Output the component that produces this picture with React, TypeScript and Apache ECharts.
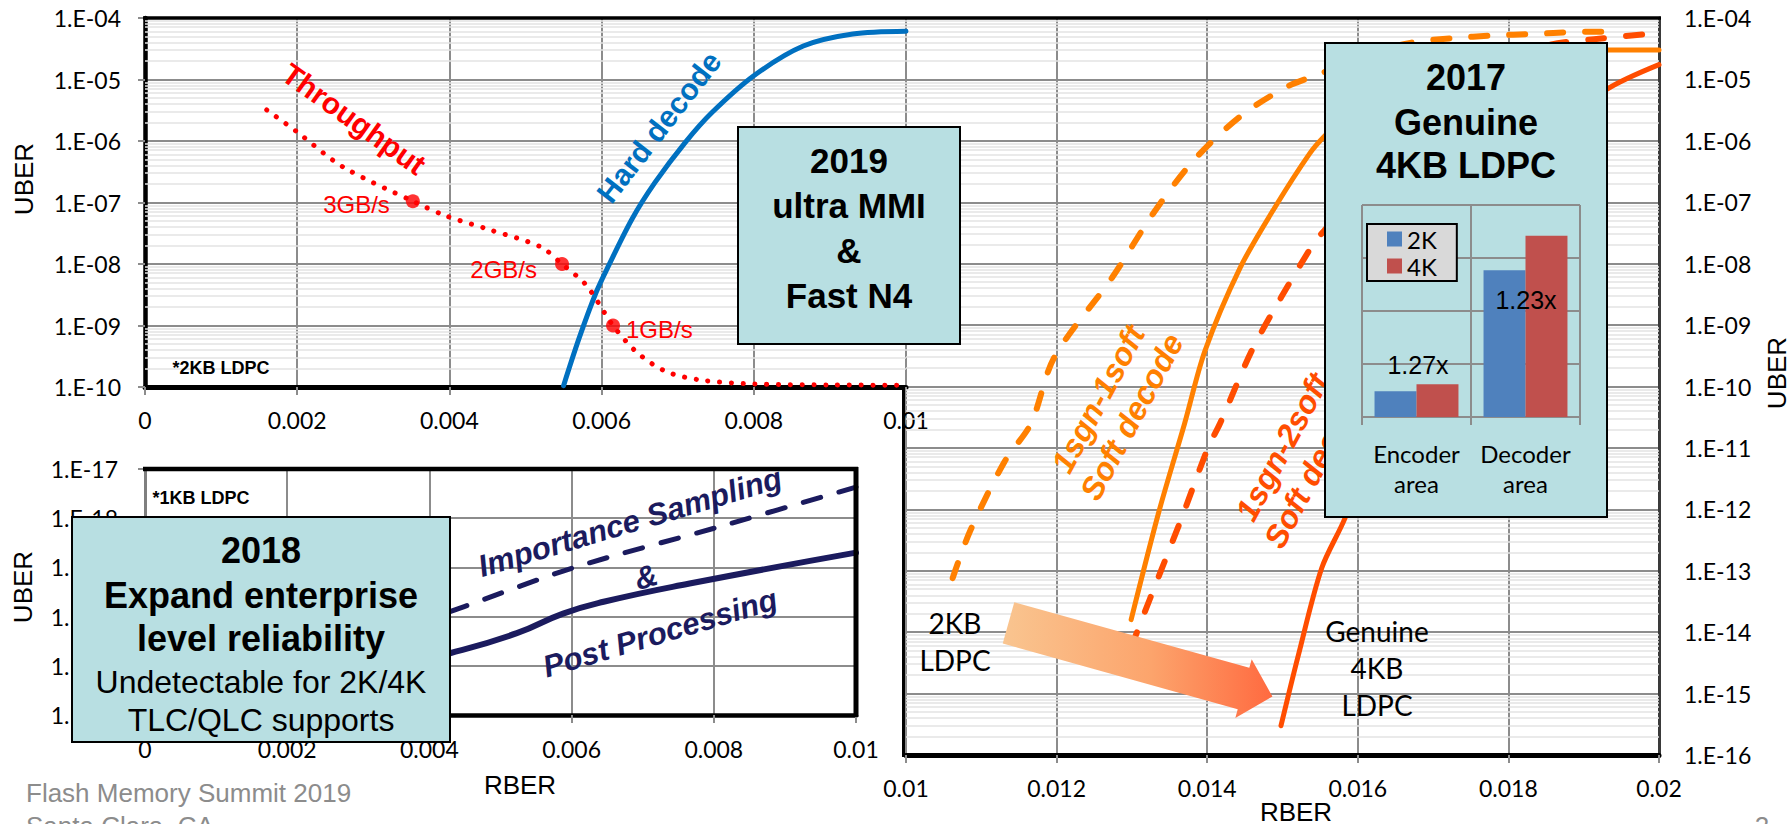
import React, { useEffect, useRef } from 'react';
import * as echarts from 'echarts';

const ARIAL = '"Liberation Sans", Arial, Helvetica, sans-serif';
const CAL = 'Lato, "Liberation Sans", sans-serif';

// ---------------- data ----------------
// Top-left chart (*2KB LDPC): RBER 0..0.01, UBER 1e-10..1e-4
const hardDecodeRber = [0.0055, 0.0057, 0.00593, 0.00609, 0.0064, 0.0067, 0.0071, 0.00745, 0.008, 0.00865, 0.0093, 0.01];
const hardDecodeUber = [1.05e-10, 6.0e-10, 3.5e-9, 9.3e-9, 5.4e-8, 2.1e-7, 9.5e-7, 2.9e-6, 1.15e-5, 3.5e-5, 5.5e-5, 6.1e-5];

const throughputRber = [0.0016, 0.002, 0.0026, 0.00352, 0.00395, 0.0045, 0.0052, 0.00548, 0.0058, 0.00615, 0.00646, 0.00684, 0.0073, 0.008, 0.009, 0.01];
const throughputUber = [3.2e-6, 1.4e-6, 3.8e-7, 1.05e-7, 6.1e-8, 3.7e-8, 1.9e-8, 1.0e-8, 4.5e-9, 1.0e-9, 3.7e-10, 1.8e-10, 1.3e-10, 1.12e-10, 1.08e-10, 1.07e-10];

const throughputPointRber = [0.00352, 0.00548, 0.00615];
const throughputPointUber = [1.05e-7, 1.0e-8, 1.0e-9];
const throughputPointLabels = ['3GB/s', '2GB/s', '1GB/s'];

// Right chart: RBER 0.01..0.02, UBER 1e-16..1e-4
const soft1Dash2kRber = [0.01062, 0.01085, 0.01131, 0.01166, 0.01197, 0.01274, 0.01328, 0.01382, 0.01444, 0.01506, 0.01552, 0.0161, 0.01673, 0.01726, 0.0178, 0.01833, 0.01886, 0.0193];
const soft1Dash2kUber = [7.6e-14, 4.4e-13, 6.0e-12, 2.5e-11, 3.0e-10, 6.0e-9, 6.5e-8, 4.8e-7, 2.5e-6, 7.6e-6, 1.26e-5, 2.6e-5, 4.0e-5, 4.7e-5, 5.2e-5, 5.5e-5, 5.9e-5, 6.0e-5];

const soft1Solid4kRber = [0.01299, 0.01336, 0.0137, 0.01397, 0.01444, 0.0149, 0.01536, 0.01556, 0.0162, 0.017, 0.018, 0.0186, 0.02];
const soft1Solid4kUber = [1.6e-14, 9.3e-13, 2.5e-11, 3.8e-10, 8.7e-9, 8.3e-8, 6.2e-7, 1.2e-6, 7.0e-6, 1.9e-5, 2.8e-5, 3.0e-5, 3.0e-5];

const soft2Dash2kRber = [0.01299, 0.01324, 0.01366, 0.01401, 0.01417, 0.01459, 0.01498, 0.01544, 0.01556, 0.0165, 0.0175, 0.0185, 0.0192, 0.02];
const soft2Dash2kUber = [5.7e-15, 3.5e-14, 7.2e-13, 1.0e-11, 2.5e-11, 3.8e-10, 2.8e-9, 2.4e-8, 3.5e-8, 1.0e-6, 1.0e-5, 3.5e-5, 4.6e-5, 5.7e-5];

const soft2Solid4kRber = [0.01498, 0.01521, 0.01552, 0.01583, 0.0165, 0.0172, 0.018, 0.0187, 0.0193, 0.02];
const soft2Solid4kUber = [3.0e-16, 4.2e-15, 1.1e-13, 7.2e-13, 1.0e-10, 6.3e-9, 1.6e-7, 1.6e-6, 6.8e-6, 1.74e-5];

// Bottom-left chart (*1KB LDPC): RBER 0..0.01, UBER 1e-22..1e-17
const importanceRber = [0.0038, 0.00449, 0.00604, 0.00806, 0.01];
const importanceUber = [7.0e-21, 1.6e-20, 1.0e-19, 6.6e-19, 4.3e-18];
const postProcRber = [0.0035, 0.00429, 0.00523, 0.00588, 0.00645, 0.00766, 0.01];
const postProcUber = [1.0e-21, 1.8e-21, 4.6e-21, 1.15e-20, 2.0e-20, 4.7e-20, 2.0e-19];

// Inset bar chart (2017 Genuine 4KB LDPC)
const barCategories = ['Encoder\narea', 'Decoder\narea'];
const area2K = [0.485, 2.77];
const area4K = [0.617, 3.42];
const ratioLabels = ['1.27x', '1.23x'];

// Tick labels
const uberTicksTop = ['1.E-10', '1.E-09', '1.E-08', '1.E-07', '1.E-06', '1.E-05', '1.E-04'];
const uberTicksRight = ['1.E-16', '1.E-15', '1.E-14', '1.E-13', '1.E-12', '1.E-11', '1.E-10', '1.E-09', '1.E-08', '1.E-07', '1.E-06', '1.E-05', '1.E-04'];
const uberTicksBottom = ['1.E-22', '1.E-21', '1.E-20', '1.E-19', '1.E-18', '1.E-17'];
const rberTicksLeft = ['0', '0.002', '0.004', '0.006', '0.008', '0.01'];
const rberTicksRight = ['0.01', '0.012', '0.014', '0.016', '0.018', '0.02'];

// ---------------- layout / style ----------------
const GA = { left: 145, top: 18, width: 761, height: 369 };
const GB = { left: 906, top: 18, width: 753, height: 737 };
const GC = { left: 145, top: 469, width: 711, height: 246 };
const GD = { left: 1362, top: 205, width: 218, height: 212 };

const GRID_COLOR = '#8c8c8c';
const MINOR_COLOR = '#e3e3e3';
const BOX_FILL = '#B8DFE2';
const ORANGE = '#FF8000';
const RED_ORANGE = '#FF4D00';
const NAVY = '#1B1B5E';

const lg = (v: number) => Math.log10(v);
const pts = (xs: number[], ys: number[]) => xs.map((x, i) => [x, lg(ys[i])]);

function minorLines(lo: number, hi: number) {
  const out: any[] = [];
  for (let e = lo; e < hi; e++) {
    for (let k = 2; k <= 9; k++) out.push({ yAxis: e + Math.log10(k) });
  }
  return out;
}

const yFmt = (labels: string[], lo: number) => (v: number) => labels[Math.round(v - lo)] ?? '';
const xFmt = (labels: string[], lo: number) => (v: number) => labels[Math.round((v - lo) / 0.002)] ?? '';

function xValueAxis(grid: number, min: number, max: number, labels: string[], margin: number, lw: number) {
  return {
    type: 'value', gridIndex: grid, min, max, interval: 0.002,
    axisLine: { show: true, onZero: false, lineStyle: { color: '#000', width: lw } },
    axisTick: { show: true, length: 8, lineStyle: { color: GRID_COLOR, width: 2 } },
    axisLabel: { margin, fontFamily: CAL, fontSize: 23, color: '#000', formatter: xFmt(labels, min), showMinLabel: true, showMaxLabel: true },
    splitLine: { show: true, lineStyle: { color: GRID_COLOR, width: 2 } },
  };
}

function yExpAxis(grid: number, min: number, max: number, labels: string[], position: string, margin: number, lineColor: string, lw: number, ticks: boolean) {
  return {
    type: 'value', gridIndex: grid, min, max, interval: 1, position,
    axisLine: { show: true, onZero: false, lineStyle: { color: lineColor, width: lw } },
    axisTick: { show: ticks, length: 7, lineStyle: { color: GRID_COLOR, width: 2 } },
    axisLabel: { margin, fontFamily: CAL, fontSize: 23, color: '#000', formatter: yFmt(labels, min), showMinLabel: true, showMaxLabel: true },
    splitLine: { show: true, lineStyle: { color: GRID_COLOR, width: 2 } },
  };
}

function lineSeries(name: string, idx: number, data: number[][], color: string, width: number, type: any, smooth: number, z = 3) {
  return {
    name, type: 'line', xAxisIndex: idx, yAxisIndex: idx, data,
    showSymbol: false, symbol: 'none', smooth, silent: true, z,
    lineStyle: { color, width, type, cap: 'round', join: 'round' },
  };
}

function minorSeries(idx: number, x0: number, lo: number, hi: number) {
  return {
    type: 'line', xAxisIndex: idx, yAxisIndex: idx, data: [[x0, lo]], symbol: 'none', showSymbol: false,
    lineStyle: { opacity: 0 }, silent: true, z: 1,
    markLine: {
      z: 1, silent: true, symbol: ['none', 'none'], label: { show: false },
      lineStyle: { color: MINOR_COLOR, width: 1.5, type: 'solid' },
      data: minorLines(lo, hi),
    },
  };
}

function text(t: string, x: number, y: number, o: any = {}) {
  return {
    type: 'text', x, y, rotation: o.rotation || 0, z: o.z ?? 60, silent: true,
    style: {
      text: t, fill: o.color || '#000',
      fontSize: o.size || 24, fontFamily: o.family || ARIAL,
      fontWeight: o.weight || 'normal', fontStyle: o.italic ? 'italic' : 'normal',
      align: o.align || 'center', textAlign: o.align || 'center',
      verticalAlign: 'middle', textVerticalAlign: 'middle',
      lineHeight: o.lineHeight,
    },
  };
}

function hline(x1: number, y1: number, x2: number, y2: number, w: number, color = '#000', z = 50) {
  return { type: 'line', z, silent: true, shape: { x1, y1, x2, y2 }, style: { stroke: color, lineWidth: w } };
}

function box(x: number, y: number, w: number, h: number) {
  return { type: 'rect', z: 100, silent: true, shape: { x, y, width: w, height: h }, style: { fill: BOX_FILL, stroke: '#000', lineWidth: 2 } };
}

function arrowPoints() {
  const th = (15.6 * Math.PI) / 180;
  const u = [Math.cos(th), Math.sin(th)];
  const n = [-Math.sin(th), Math.cos(th)];
  const T = [1008.5, 622.9];
  const len = 274;
  const head = 30;
  const B = [T[0] + (len - head) * u[0], T[1] + (len - head) * u[1]];
  const P = [T[0] + len * u[0], T[1] + len * u[1]];
  const hw = 21.5, bw = 30.5;
  const at = (p: number[], s: number) => [p[0] + s * n[0], p[1] + s * n[1]];
  return [at(T, -hw), at(B, -hw), at(B, -bw), P, at(B, bw), at(B, hw), at(T, hw)];
}

function buildOption() {
  const B = (k: string, x: number, y: number, size: number) => text(k, x, y, { size, weight: 'bold', z: 101 });
  const R = (k: string, x: number, y: number, size: number) => text(k, x, y, { size, z: 101 });

  const graphic: any[] = [
    // frame lines
    hline(143, 18, 1661, 18, 3.5),
    hline(903.5, 386, 903.5, 757, 3),
    hline(143, 469, 858, 469, 4.5),
    hline(856, 467, 856, 717, 5),

    // axis titles
    text('UBER', 24, 179, { size: 26, rotation: Math.PI / 2 }),
    text('UBER', 23, 587, { size: 26, rotation: Math.PI / 2 }),
    text('UBER', 1777, 373, { size: 26, rotation: Math.PI / 2 }),
    text('RBER', 520, 785, { size: 26 }),
    text('RBER', 1296, 812, { size: 26 }),

    // footer
    text('Flash Memory Summit 2019', 26, 793, { size: 26, color: '#8C8C8C', align: 'left' }),
    text('Santa Clara, CA', 26, 826, { size: 26, color: '#8C8C8C', align: 'left' }),
    text('2', 1762, 826, { size: 26, color: '#8C8C8C' }),

    // top-left chart annotations
    text('Throughput', 354, 119, { size: 30, weight: 'bold', color: '#FF0000', rotation: -0.62 }),
    text('Hard decode', 659, 127, { size: 30, weight: 'bold', color: '#0070C0', rotation: 0.91 }),
    text('*2KB LDPC', 221, 368, { size: 18, weight: 'bold' }),

    // bottom-left chart annotations
    text('*1KB LDPC', 201, 498, { size: 18, weight: 'bold' }),
    text('Importance Sampling', 630, 522, { size: 31, weight: 'bold', italic: true, color: NAVY, rotation: 0.29 }),
    text('&', 646, 577, { size: 31, weight: 'bold', italic: true, color: NAVY, rotation: 0.29 }),
    text('Post Processing', 660, 633, { size: 31, weight: 'bold', italic: true, color: NAVY, rotation: 0.29 }),

    // right chart annotations
    text('1sgn-1soft\nSoft decode', 1115, 408, { size: 32, weight: 'bold', italic: true, color: ORANGE, rotation: 1.08, lineHeight: 38 }),
    text('1sgn-2soft\nSoft decode', 1299, 456, { size: 32, weight: 'bold', italic: true, color: RED_ORANGE, rotation: 1.08, lineHeight: 38 }),
    text('2KB\nLDPC', 955, 641.5, { size: 28, family: CAL, lineHeight: 37 }),
    text('Genuine\n4KB\nLDPC', 1377, 668, { size: 28, family: CAL, lineHeight: 37 }),
    {
      type: 'polygon', z: 55, silent: true,
      shape: { points: arrowPoints() },
      style: {
        fill: new echarts.graphic.LinearGradient(0, 0, 1, 0, [
          { offset: 0, color: '#F9C590' },
          { offset: 0.55, color: '#FCA46C' },
          { offset: 1, color: '#FF6A40' },
        ]),
      },
    },

    // 2019 box
    box(738, 127, 222, 217),
    B('2019', 849, 160, 35),
    B('ultra MMI', 849, 205, 35),
    B('&', 849, 250, 35),
    B('Fast N4', 849, 295, 35),

    // 2017 box
    box(1325, 43, 282, 474),
    B('2017', 1466, 77, 36),
    B('Genuine', 1466, 122, 36),
    B('4KB LDPC', 1466, 165, 36),
    text(ratioLabels[0], 1418, 365, { size: 25, z: 160 }),
    text(ratioLabels[1], 1526, 300, { size: 25, z: 160 }),

    // 2018 box
    box(72, 517, 378, 225),
    B('2018', 261, 550, 36),
    B('Expand enterprise', 261, 595, 36),
    B('level reliability', 261, 638, 36),
    R('Undetectable for 2K/4K', 261, 682, 32),
    R('TLC/QLC supports', 261, 720, 32),
  ];

  return {
    animation: false,
    backgroundColor: '#ffffff',
    grid: [
      { ...GA, show: true, backgroundColor: '#fff', borderWidth: 0 },
      { ...GB, show: true, backgroundColor: '#fff', borderWidth: 0 },
      { ...GC, show: true, backgroundColor: '#fff', borderWidth: 0 },
      { ...GD, show: false },
    ],
    legend: {
      data: ['2K', '4K'], orient: 'vertical', left: 1367, top: 224, z: 140,
      itemWidth: 15, itemHeight: 15, itemGap: 3, icon: 'rect',
      backgroundColor: '#D9D9D9', borderColor: '#000', borderWidth: 2, borderRadius: 0,
      padding: [3, 20, 3, 20],
      textStyle: { fontFamily: CAL, fontSize: 24, color: '#000', lineHeight: 24 },
    },
    xAxis: [
      xValueAxis(0, 0, 0.01, rberTicksLeft, 21, 5),
      xValueAxis(1, 0.01, 0.02, rberTicksRight, 21, 5),
      xValueAxis(2, 0, 0.01, rberTicksLeft, 22, 4.5),
      {
        type: 'category', gridIndex: 3, data: barCategories, z: 120,
        axisLine: { show: true, lineStyle: { color: GRID_COLOR, width: 2 } },
        axisTick: { show: true, length: 8, lineStyle: { color: GRID_COLOR, width: 2 } },
        axisLabel: { fontFamily: CAL, fontSize: 24, lineHeight: 30, color: '#000', margin: 21, interval: 0 },
        splitLine: { show: true, lineStyle: { color: GRID_COLOR, width: 2 } },
      },
    ],
    yAxis: [
      yExpAxis(0, -10, -4, uberTicksTop, 'left', 24, '#000', 4.5, true),
      yExpAxis(1, -16, -4, uberTicksRight, 'right', 25, '#3a3a3a', 3, false),
      yExpAxis(2, -22, -17, uberTicksBottom, 'left', 27, '#7f7f7f', 3, true),
      {
        type: 'value', gridIndex: 3, min: 0, max: 4, interval: 1, z: 120,
        axisLine: { show: false }, axisTick: { show: false }, axisLabel: { show: false },
        splitLine: { show: true, lineStyle: { color: GRID_COLOR, width: 2 } },
      },
    ],
    graphic,
    series: [
      minorSeries(0, 0, -10, -4),
      minorSeries(1, 0.01, -16, -4),

      lineSeries('Hard decode', 0, pts(hardDecodeRber, hardDecodeUber), '#0070C0', 5, 'solid', 0.3),
      lineSeries('Throughput', 0, pts(throughputRber, throughputUber), '#FF0000', 5, [0.1, 11.7], 0.3),
      {
        name: 'Throughput points', type: 'scatter', xAxisIndex: 0, yAxisIndex: 0, z: 4, silent: true,
        symbol: 'circle', symbolSize: 14, itemStyle: { color: '#FF0000' },
        data: throughputPointRber.map((x, i) => ({
          value: [x, lg(throughputPointUber[i])],
          label: {
            show: true, formatter: throughputPointLabels[i],
            position: ['left', 'left', 'right'][i], distance: [16, 18, 6][i], offset: [0, [3, 5, 4][i]],
            color: '#FF0000', fontFamily: ARIAL, fontSize: 24, textBorderWidth: 0, opacity: 1,
          },
        })),
      },

      lineSeries('2KB 1sgn-1soft', 1, pts(soft1Dash2kRber, soft1Dash2kUber), ORANGE, 6, [16, 22], 0.3),
      lineSeries('4KB 1sgn-1soft', 1, pts(soft1Solid4kRber, soft1Solid4kUber), ORANGE, 5, 'solid', 0.3),
      lineSeries('2KB 1sgn-2soft', 1, pts(soft2Dash2kRber, soft2Dash2kUber), RED_ORANGE, 6, [16, 22], 0.3),
      lineSeries('4KB 1sgn-2soft', 1, pts(soft2Solid4kRber, soft2Solid4kUber), RED_ORANGE, 5, 'solid', 0.3),

      lineSeries('Importance Sampling', 2, pts(importanceRber, importanceUber), NAVY, 5, [18, 19], 0.3),
      lineSeries('Post Processing', 2, pts(postProcRber, postProcUber), NAVY, 6, 'solid', 0.5),

      {
        name: '2K', type: 'bar', xAxisIndex: 3, yAxisIndex: 3, data: area2K, z: 130, silent: true,
        barGap: '0%', barCategoryGap: '23%', itemStyle: { color: '#4F81BD' },
      },
      {
        name: '4K', type: 'bar', xAxisIndex: 3, yAxisIndex: 3, data: area4K, z: 130, silent: true,
        barGap: '0%', barCategoryGap: '23%', itemStyle: { color: '#C0504D' },
      },
    ],
  };
}

export default function App() {
  const ref = useRef<HTMLDivElement>(null);
  useEffect(() => {
    document.body.style.margin = '0';
    const el = ref.current;
    if (!el) return;
    const chart = echarts.init(el, null, { renderer: 'svg', width: 1791, height: 824 });
    chart.setOption(buildOption() as any);
    return () => {
      chart.dispose();
    };
  }, []);
  return <div ref={ref} style={{ width: 1791, height: 824, background: '#fff' }} />;
}
